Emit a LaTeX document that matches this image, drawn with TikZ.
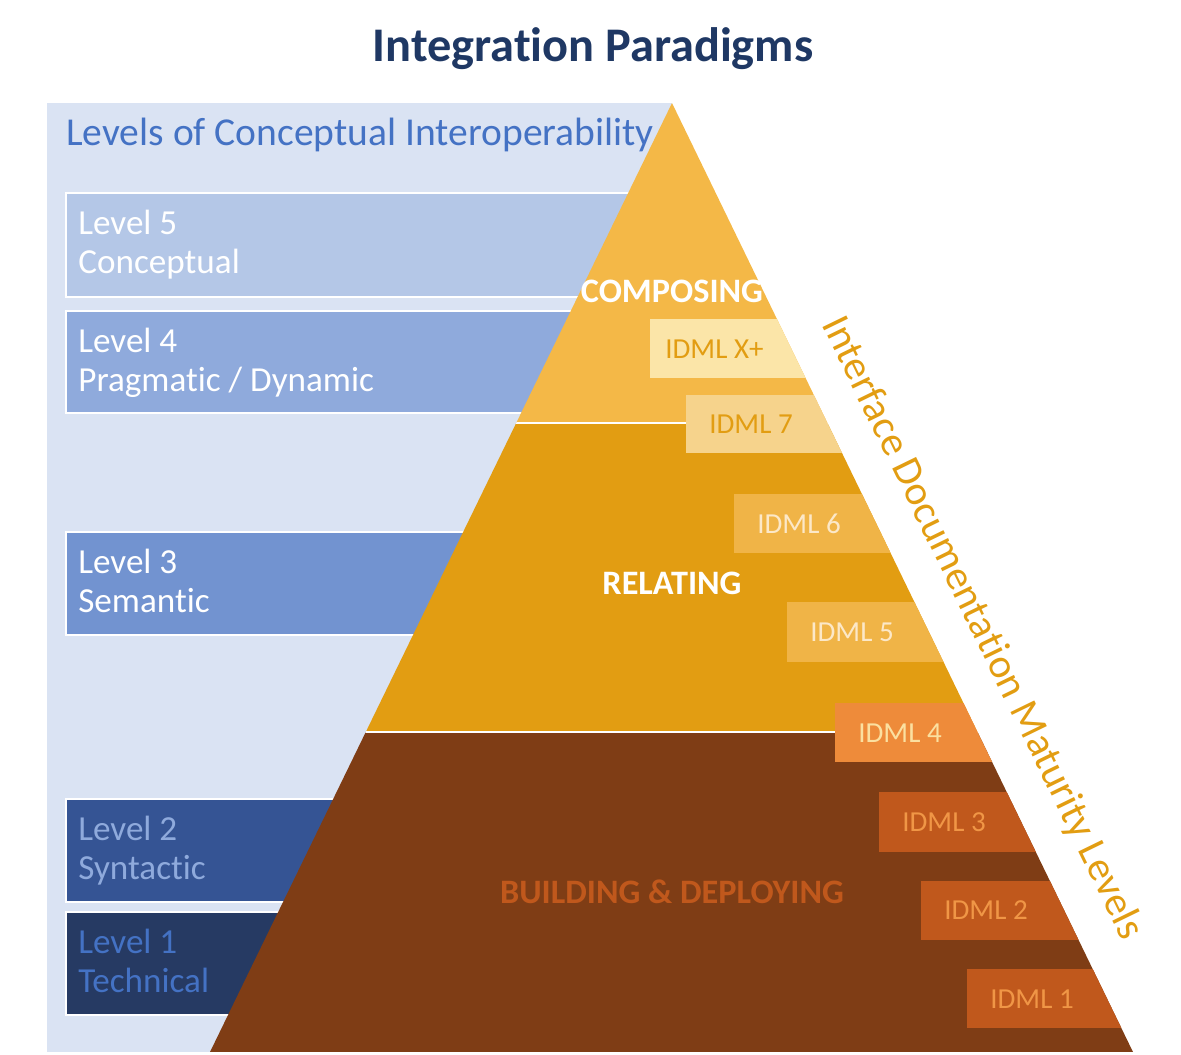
\documentclass[tikz,border=0pt]{standalone}
\usepackage{fontspec}
\setmainfont{Carlito}[Ligatures=NoCommon]
\definecolor{panel}{HTML}{DAE3F3}
\definecolor{lfive}{HTML}{B4C7E7}
\definecolor{lfour}{HTML}{8FAADC}
\definecolor{lthree}{HTML}{7293D0}
\definecolor{ltwo}{HTML}{355494}
\definecolor{lone}{HTML}{263A63}
\definecolor{ptop}{HTML}{F4B847}
\definecolor{pmid}{HTML}{E29D12}
\definecolor{pbot}{HTML}{7F3D15}
\definecolor{titleblue}{HTML}{1F3864}
\definecolor{headblue}{HTML}{4472C4}
\begin{document}
\begin{tikzpicture}[x=0.02cm,y=-0.02cm,
  lvl/.style={draw=white,line width=1pt},
  lvltext/.style={anchor=north west,align=left,font=\fontsize{20}{22}\selectfont,inner sep=0pt},
  idml/.style={anchor=west,font=\fontsize{16.5}{18}\selectfont,inner sep=0pt}]
\useasboundingbox (0,0) rectangle (1181,1055);
\node[font=\bfseries\fontsize{27.5}{30}\selectfont,text=titleblue] (title) at (593,49) {Integration Paradigms};
\fill[panel] (47,103) rectangle (672,1052);
\node[anchor=west,font=\fontsize{22.5}{25}\selectfont,text=headblue,inner sep=0pt] (head) at (66,135) {Levels of Conceptual Interoperability};
\draw[lvl,fill=lfive] (66,193) rectangle (660,297);
\draw[lvl,fill=lfour] (66,311) rectangle (660,413);
\draw[lvl,fill=lthree] (66,532) rectangle (660,635);
\draw[lvl,fill=ltwo] (66,799) rectangle (660,902);
\draw[lvl,fill=lone] (66,912) rectangle (660,1015);
\node[lvltext,text=white] (l5) at (78,210) {Level 5\\Conceptual};
\node[lvltext,text=white] (l4) at (78,328) {Level 4\\Pragmatic / Dynamic};
\node[lvltext,text=white] (l3) at (78,549) {Level 3\\Semantic};
\node[lvltext,text=lfour] (l2) at (78,816) {Level 2\\Syntactic};
\node[lvltext,text=headblue] (l1) at (78,929) {Level 1\\Technical};
\begin{scope}
\clip (672,103) -- (1133,1052) -- (210,1052) -- cycle;
\fill[ptop] (0,103) rectangle (1181,423);
\fill[pmid] (0,423) rectangle (1181,732);
\fill[pbot] (0,732) rectangle (1181,1052);
\draw[white,line width=1pt] (0,423) -- (1181,423) (0,732) -- (1181,732);
\fill[color={rgb,255:red,251;green,229;blue,168}] (650,319) rectangle (1181,378);
\fill[color={rgb,255:red,246;green,211;blue,140}] (686,395) rectangle (1181,453);
\fill[color={rgb,255:red,240;green,180;blue,71}] (734,494) rectangle (1181,553);
\fill[color={rgb,255:red,240;green,180;blue,71}] (787,602) rectangle (1181,662);
\fill[color={rgb,255:red,238;green,139;blue,58}] (835,703) rectangle (1181,762);
\fill[color={rgb,255:red,192;green,88;blue,28}] (879,792) rectangle (1181,852);
\fill[color={rgb,255:red,192;green,88;blue,28}] (921,881) rectangle (1181,940);
\fill[color={rgb,255:red,192;green,88;blue,28}] (967,969) rectangle (1181,1028);
\end{scope}
\node[idml,text=pmid] (ix) at (665,349) {IDML X+};
\node[idml,text=pmid] (i7) at (709,424) {IDML 7};
\node[idml,text={rgb,255:red,252;green,232;blue,200}] (i6) at (757,524) {IDML 6};
\node[idml,text={rgb,255:red,252;green,232;blue,200}] (i5) at (810,632) {IDML 5};
\node[idml,text={rgb,255:red,251;green,224;blue,160}] (i4) at (858,733) {IDML 4};
\node[idml,text={rgb,255:red,240;green,150;blue,70}] (i3) at (902,822) {IDML 3};
\node[idml,text={rgb,255:red,240;green,150;blue,70}] (i2) at (944,910) {IDML 2};
\node[idml,text={rgb,255:red,240;green,150;blue,70}] (i1) at (990,999) {IDML 1};
\node[font=\bfseries\fontsize{19.5}{22}\selectfont,text=white] (comp) at (672,291) {COMPOSING};
\node[font=\bfseries\fontsize{19.5}{22}\selectfont,text=white] (rel) at (672,583) {RELATING};
\node[font=\bfseries\fontsize{19.5}{22}\selectfont,text={rgb,255:red,192;green,88;blue,28}] (bld) at (672,892) {BUILDING \& DEPLOYING};
\node[rotate=-64,font=\fontsize{23.5}{26}\selectfont,text=pmid] (idl) at (982,628) {Interface Documentation Maturity Levels};
\end{tikzpicture}
\end{document}
